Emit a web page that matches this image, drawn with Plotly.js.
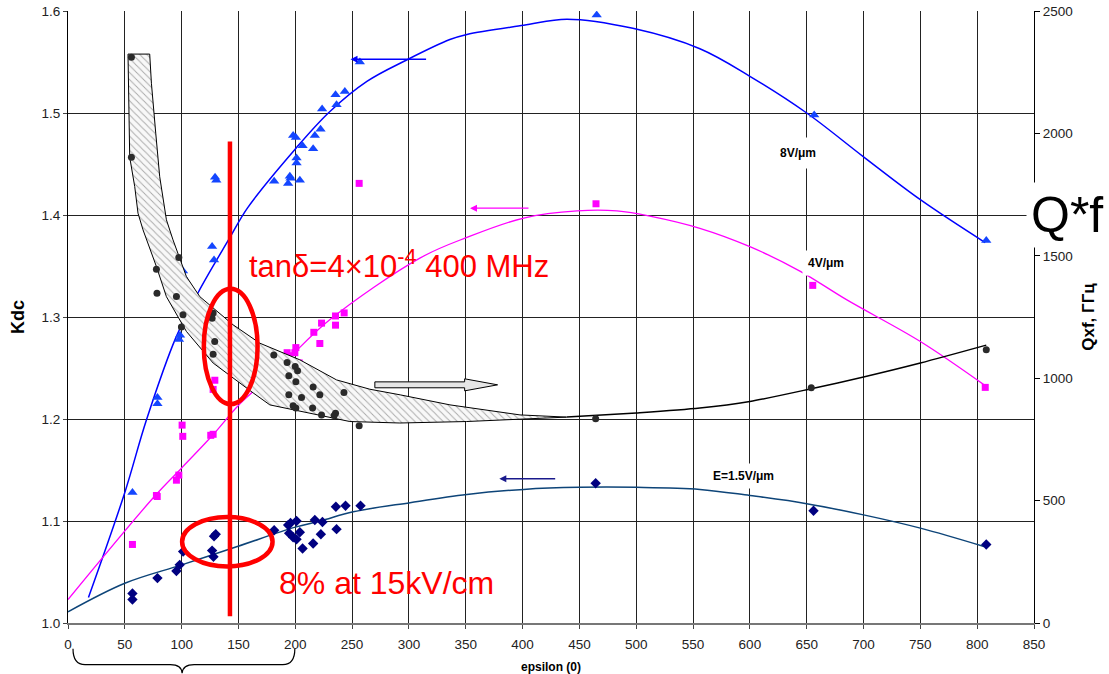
<!DOCTYPE html>
<html>
<head>
<meta charset="utf-8">
<script src="https://cdn.plot.ly/plotly-3.0.1.min.js"></script>
<style>
  html, body { margin: 0; padding: 0; background: #fff; }
  #chart { width: 1109px; height: 674px; }
</style>
</head>
<body>
<div id="chart"></div>
<script>
// Kdc (tunability) vs. epsilon(0) at three bias fields, plus Q*f on the right axis.

// E = 8 V/um : Kdc measurements
const tri_eps = [56.7, 78.7, 78.7, 97.7, 98.6, 101.2, 101.2, 126.8, 128.5, 129.4, 130.5, 181.4, 193.7, 195.2, 195.8, 204.0, 201.1, 201.1, 206.4, 198.1, 200.5, 215.7, 217.2, 222.2, 223.6, 236.3, 235.4, 243.6, 256.8, 465.2, 656.6, 808.0];
const tri_kdc = [1.128, 1.221, 1.215, 1.278, 1.282, 1.340, 1.345, 1.369, 1.356, 1.437, 1.434, 1.433, 1.431, 1.438, 1.436, 1.434, 1.451, 1.456, 1.468, 1.478, 1.476, 1.465, 1.478, 1.484, 1.504, 1.508, 1.518, 1.521, 1.550, 1.596, 1.498, 1.375];

// E = 4 V/um : Kdc measurements
const sq_eps = [56.7, 77.8, 78.5, 95.4, 97.5, 100.4, 101.0, 125.6, 127.7, 127.7, 129.2, 181.1, 192.8, 194.5, 200.5, 199.6, 203.4, 199.6, 206.4, 215.7, 216.3, 221.6, 223.1, 235.4, 243.0, 235.4, 256.2, 464.6, 655.3, 807.1];
const sq_kdc = [1.077, 1.125, 1.124, 1.140, 1.145, 1.194, 1.183, 1.184, 1.185, 1.229, 1.238, 1.261, 1.265, 1.262, 1.270, 1.265, 1.255, 1.242, 1.233, 1.232, 1.285, 1.274, 1.294, 1.301, 1.304, 1.292, 1.431, 1.411, 1.331, 1.231];

// E = 1.5 V/um : Kdc measurements
const dia_eps = [56.7, 56.7, 78.7, 95.4, 98.3, 101.3, 126.8, 128.0, 128.5, 130.0, 181.4, 193.7, 195.8, 201.1, 194.6, 198.1, 201.1, 204.0, 206.4, 215.7, 217.2, 223.9, 222.5, 236.3, 235.7, 244.2, 257.4, 464.3, 656.0, 808.0];
const dia_kdc = [1.029, 1.023, 1.044, 1.051, 1.057, 1.070, 1.071, 1.065, 1.085, 1.087, 1.091, 1.096, 1.098, 1.100, 1.088, 1.084, 1.082, 1.089, 1.073, 1.078, 1.101, 1.099, 1.087, 1.092, 1.114, 1.115, 1.115, 1.137, 1.110, 1.077];

// Q*f (GHz) measurements
const dot_eps = [55.8, 55.8, 77.8, 78.3, 97.5, 95.4, 101.2, 99.8, 127.7, 126.8, 129.1, 127.7, 181.1, 192.8, 199.9, 202.0, 194.3, 200.5, 194.3, 205.5, 198.1, 200.5, 215.7, 221.6, 215.2, 223.1, 235.4, 234.2, 242.8, 256.2, 464.3, 654.0, 808.0];
const dot_qf  = [2311, 1903, 1445, 1347, 1493, 1334, 1259, 1209, 1266, 1245, 1150, 1098, 1095, 1064, 1048, 1030, 1010, 986, 932, 921, 887, 878, 964, 932, 878, 850, 857, 848, 942, 806, 834, 961, 1116];

// Trend curves
const fit8_eps = [18, 50, 69, 95, 116, 142, 158, 201, 230, 263, 298, 336, 351, 401, 439, 497, 556, 600, 650, 700, 750, 807];
const fit8_kdc = [1.025, 1.128, 1.199, 1.280, 1.327, 1.377, 1.407, 1.466, 1.501, 1.531, 1.552, 1.572, 1.577, 1.586, 1.592, 1.583, 1.563, 1.536, 1.500, 1.457, 1.415, 1.373];
const fit4_eps = [0, 76, 100, 128, 148, 160, 191, 230, 310, 351, 401, 448, 483, 512, 556, 600, 644, 685, 750, 808];
const fit4_kdc = [1.023, 1.124, 1.152, 1.185, 1.211, 1.224, 1.256, 1.297, 1.358, 1.378, 1.397, 1.404, 1.404, 1.399, 1.387, 1.369, 1.345, 1.317, 1.276, 1.232];
const fit15_eps = [0, 50, 100, 149, 200, 222, 251, 301, 351, 401, 450, 500, 556, 600, 650, 700, 750, 806];
const fit15_kdc = [1.011, 1.039, 1.057, 1.075, 1.094, 1.100, 1.109, 1.118, 1.126, 1.131, 1.133, 1.133, 1.131, 1.125, 1.117, 1.106, 1.093, 1.075];
const qfit_eps = [439, 500, 556, 600, 655, 700, 750, 808];
const qfit_qf  = [841, 858, 878, 905, 958, 1005, 1062, 1135];

// Q*f scatter band outline (upper edge, then lower edge back)
const band_eps = [52.8, 71.9, 73.4, 75.5, 77.2, 80.7, 86.6, 92.4, 104.2, 116.0, 145.3, 168.8, 204.0, 236.3, 265.6, 292.3, 336.1, 397.7, 438.8,
                  350.8, 292.0, 248.0, 204.0, 177.6, 162.9, 127.7, 104.2, 86.6, 77.8, 66.0, 61.6, 58.7, 54.3, 52.8];
const band_qf  = [2324, 2324, 2205, 2082, 2001, 1823, 1647, 1565, 1415, 1333, 1218, 1143, 1075, 993, 955, 932, 891, 850, 841,
                  823, 817, 823, 864, 891, 940, 1062, 1191, 1333, 1456, 1606, 1674, 1783, 1903, 2324];

const FONT = 'Arial, "Liberation Sans", sans-serif';

const traces = [
  { x: band_eps, y: band_qf, yaxis: 'y2', type: 'scatter', mode: 'lines',
    fill: 'toself', fillcolor: 'rgba(0,0,0,0)',
    fillpattern: { shape: '\\', fgcolor: '#a8a8a8', bgcolor: '#f8f8f8', size: 5, solidity: 0.18 },
    line: { color: '#000', width: 1 }, hoverinfo: 'skip' },
  { x: qfit_eps, y: qfit_qf, yaxis: 'y2', type: 'scatter', mode: 'lines',
    line: { color: '#000', width: 1.5, shape: 'spline', smoothing: 0.8 } },
  { x: fit8_eps, y: fit8_kdc, type: 'scatter', mode: 'lines',
    line: { color: '#0000ff', width: 1.5, shape: 'spline' } },
  { x: fit4_eps, y: fit4_kdc, type: 'scatter', mode: 'lines',
    line: { color: '#ff00ff', width: 1.3, shape: 'spline' } },
  { x: fit15_eps, y: fit15_kdc, type: 'scatter', mode: 'lines',
    line: { color: '#0d4478', width: 1.5, shape: 'spline' } },
  { x: dot_eps, y: dot_qf, yaxis: 'y2', type: 'scatter', mode: 'markers',
    marker: { symbol: 'circle', size: 7, color: '#2a2a2a' } },
  { x: tri_eps, y: tri_kdc, type: 'scatter', mode: 'markers',
    marker: { symbol: 'triangle-up', size: 9, color: '#1446ff' } },
  { x: sq_eps, y: sq_kdc, type: 'scatter', mode: 'markers',
    marker: { symbol: 'square', size: 7, color: '#ff00ff' } },
  { x: dia_eps, y: dia_kdc, type: 'scatter', mode: 'markers',
    marker: { symbol: 'diamond', size: 8, color: '#000080' } }
];

const arrow = (tip, tail, y, color) => ({
  x: tip, y: y, ax: tail, ay: y, xref: 'x', yref: 'y', axref: 'x', ayref: 'y',
  text: '', showarrow: true, arrowhead: 2, arrowsize: 1, arrowwidth: 1.4,
  arrowcolor: color, standoff: 0, startstandoff: 0
});

const bold = (size) => ({ size: size, color: '#000', family: FONT, weight: 'bold' });

const layout = {
  width: 1109, height: 674,
  margin: { l: 68, r: 75, t: 11, b: 51 },
  paper_bgcolor: '#fff', plot_bgcolor: '#fff',
  showlegend: false, hovermode: false,
  font: { family: FONT, size: 13, color: '#222' },
  xaxis: {
    range: [0, 850], dtick: 50, tick0: 0,
    showgrid: true, gridcolor: '#222', gridwidth: 1,
    zeroline: false, showline: true, linecolor: '#777', linewidth: 2,
    ticks: 'outside', ticklen: 4, tickcolor: '#444', ticklabelstandoff: 4,
    tickfont: { size: 13.5, color: '#222' },
    title: { text: 'epsilon (0)', font: bold(12), standoff: 12 }
  },
  yaxis: {
    range: [1.0, 1.6], dtick: 0.1, tick0: 1.0, tickformat: '.1f',
    showgrid: true, gridcolor: '#222', gridwidth: 1,
    zeroline: false, showline: true, linecolor: '#000', linewidth: 1,
    ticks: 'outside', ticklen: 4, tickcolor: '#444',
    tickfont: { size: 13.5, color: '#222' },
    title: { text: 'Kdc', font: bold(18), standoff: 12 }
  },
  yaxis2: {
    overlaying: 'y', side: 'right',
    range: [0, 2500], dtick: 500, tick0: 0,
    showgrid: false, zeroline: false, showline: true, linecolor: '#000', linewidth: 1,
    ticks: 'outside', ticklen: 5, tickcolor: '#000',
    tickfont: { size: 13.5, color: '#222' },
    title: { text: 'Qxf, ГГц', font: bold(17), standoff: 10 }
  },
  shapes: [
    // hollow arrow pointing toward the Q*f axis
    { type: 'path', xref: 'x', yref: 'y', layer: 'above',
      path: 'M 270,1.2364 L 349,1.2364 L 349,1.2394 L 378,1.2335 L 349,1.2276 L 349,1.2306 L 270,1.2306 Z',
      fillcolor: '#e6e6e6', line: { color: '#000', width: 1 } },
    // eps = 143 marker line
    { type: 'line', xref: 'x', yref: 'y', layer: 'above',
      x0: 142.5, x1: 142.5, y0: 1.0065, y1: 1.472, line: { color: '#ff0000', width: 4.5 } },
    // highlighted regions
    { type: 'circle', xref: 'x', yref: 'y', layer: 'above',
      x0: 119.5, x1: 166.8, y0: 1.2146, y1: 1.3276, line: { color: '#ff0000', width: 4.5 } },
    { type: 'circle', xref: 'x', yref: 'y', layer: 'above',
      x0: 100.4, x1: 180.0, y0: 1.0555, y1: 1.1039, line: { color: '#ff0000', width: 4.5 } },
    // brace under eps 0..200
    { type: 'path', xref: 'x', yref: 'paper', layer: 'above',
      path: 'M 4.4,-0.042 Q 4.4,-0.068 15,-0.068 L 90,-0.068 Q 100,-0.068 100.4,-0.082 Q 101,-0.068 111,-0.068 L 189,-0.068 Q 199.6,-0.068 199.6,-0.042',
      line: { color: '#000', width: 1.2 } }
  ],
  annotations: [
    arrow(248.6, 316.4, 1.5527, '#0000ff'),
    arrow(353.7, 406.5, 1.4067, '#ff00ff'),
    arrow(379.5, 430.0, 1.1414, '#1a1a8c'),
    { x: 642, y: 1.4609, xref: 'x', yref: 'y', text: '8V/μm', showarrow: false,
      font: bold(12), bgcolor: '#fff', borderpad: 8 },
    { x: 667, y: 1.3534, xref: 'x', yref: 'y', text: '4V/μm', showarrow: false,
      font: bold(12), bgcolor: '#fff', borderpad: 5 },
    { x: 594.3, y: 1.1443, xref: 'x', yref: 'y', text: 'E=1.5V/μm', showarrow: false,
      font: bold(12), bgcolor: '#fff', borderpad: 5 },
    { x: 157.5, y: 1.352, xref: 'x', yref: 'y', xanchor: 'left', yanchor: 'middle',
      text: 'tanδ=4×10<sup>-4</sup> 400 MHz', showarrow: false,
      font: { size: 31, color: '#ff0000', family: FONT } },
    { x: 183.8, y: 1.039, xref: 'x', yref: 'y', xanchor: 'left', yanchor: 'middle',
      text: '8% at 15kV/cm', showarrow: false,
      font: { size: 32, color: '#ff0000', family: FONT } },
    { x: 1.0, y: 0.667, xref: 'paper', yref: 'paper', xanchor: 'left', yanchor: 'middle',
      xshift: -8, text: 'Q*f', showarrow: false, bgcolor: '#fff', borderpad: 4,
      font: { size: 50, color: '#000', family: FONT } }
  ]
};

Plotly.newPlot('chart', traces, layout, { displayModeBar: false, staticPlot: true });
</script>
</body>
</html>
